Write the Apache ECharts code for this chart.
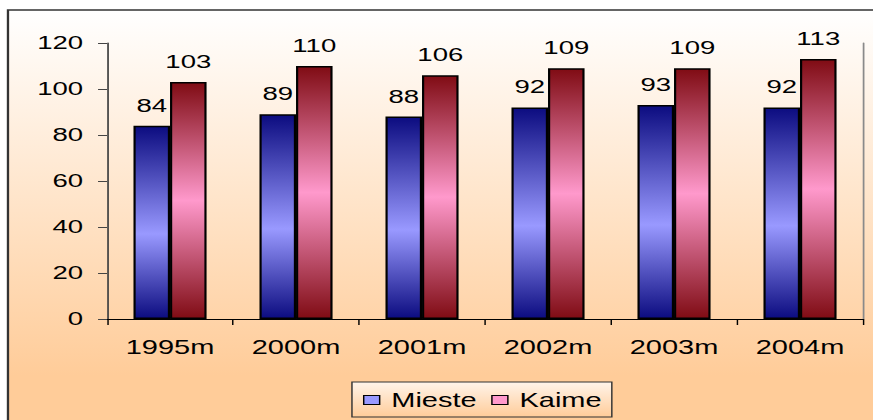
<!DOCTYPE html>
<html>
<head>
<meta charset="utf-8">
<script src="https://cdn.jsdelivr.net/npm/echarts@6/dist/echarts.min.js"></script>
<style>
  html, body { margin: 0; padding: 0; background: #ffffff; overflow: hidden; }
  /* the chart is laid out narrow and widened, giving the broad lettering */
  #c { width: 602px; height: 420px; transform: scaleX(1.4502); transform-origin: 0 0; }
</style>
</head>
<body>
<div id="c"></div>
<script>
const categories = ['1995m', '2000m', '2001m', '2002m', '2003m', '2004m'];
const mieste = [84, 89, 88, 92, 93, 92];
const kaime = [103, 110, 106, 109, 109, 113];
const yTicks = { min: 0, max: 120, interval: 20 };

const FONT = '"Liberation Sans", Arial, sans-serif';
const G = echarts.graphic.LinearGradient;

function barFill(dark, light, mid) {
  return new G(0, 0, 0, 1, [
    { offset: 0, color: dark },
    { offset: mid, color: light },
    { offset: 1, color: dark }
  ]);
}

function paperFill() {
  return new G(0, 0, 0, 1, [
    { offset: 0, color: '#fff4ea' },
    { offset: 1, color: '#ffcc99' }
  ]);
}

const chart = echarts.init(document.getElementById('c'), null, { renderer: 'svg' });

chart.setOption({
  animation: false,
  textStyle: { fontFamily: FONT },
  graphic: [{
    type: 'rect',
    z: -10,
    silent: true,
    shape: { x: 5.5, y: 10, width: 700, height: 430 },
    style: {
      fill: new G(0, 0, 0, 1, [
        { offset: 0, color: '#ffffff' },
        { offset: 0.85, color: '#ffcc99' },
        { offset: 1, color: '#ffcc99' }
      ]),
      stroke: '#333333',
      lineWidth: 1.6
    }
  }],
  grid: { left: 73.8, right: 6.9, top: 43, bottom: 101 },
  legend: {
    left: 242.7,
    top: 382,
    padding: [8, 7, 7, 7.6],
    itemWidth: 11,
    itemHeight: 9,
    itemGap: 10,
    icon: 'rect',
    backgroundColor: paperFill(),
    borderColor: '#333333',
    borderWidth: 1,
    textStyle: { fontSize: 20, color: '#000', fontFamily: FONT, padding: [0, 0, 0, 3] },
    data: [
      { name: 'Mieste', itemStyle: { color: '#9999ff', borderColor: '#000', borderWidth: 1 } },
      { name: 'Kaime', itemStyle: { color: '#ff99cc', borderColor: '#000', borderWidth: 1 } }
    ]
  },
  xAxis: {
    type: 'category',
    data: categories,
    axisLine: { lineStyle: { color: '#000', width: 1 } },
    axisTick: { show: true, length: 6, lineStyle: { color: '#000' } },
    axisLabel: { fontSize: 20, color: '#000', margin: 18, fontFamily: FONT }
  },
  yAxis: [{
    type: 'value',
    min: yTicks.min,
    max: yTicks.max,
    interval: yTicks.interval,
    splitLine: { show: false },
    axisLine: { show: true, lineStyle: { color: '#444', width: 1.2 } },
    axisTick: { show: true, length: 6.2, lineStyle: { color: '#444' } },
    axisLabel: { fontSize: 19, color: '#000', margin: 16.5, fontFamily: FONT }
  }, {
    type: 'value',
    position: 'right',
    min: yTicks.min,
    max: yTicks.max,
    interval: yTicks.interval,
    splitLine: { show: false },
    axisLine: { show: true, lineStyle: { color: '#8a8a8a', width: 1.2 } },
    axisTick: { show: false },
    axisLabel: { show: false }
  }],
  series: [{
    name: 'Mieste',
    type: 'bar',
    data: mieste,
    barGap: '0%',
    barCategoryGap: '42%',
    itemStyle: {
      color: barFill('#0c0c80', '#9999ff', 0.56),
      borderColor: '#000',
      borderWidth: 1.5
    },
    label: { show: true, position: 'top', distance: 11, fontSize: 19, color: '#000', fontFamily: FONT }
  }, {
    name: 'Kaime',
    type: 'bar',
    data: kaime,
    itemStyle: {
      color: barFill('#800c14', '#ff99cc', 0.5),
      borderColor: '#000',
      borderWidth: 1.5
    },
    label: { show: true, position: 'top', distance: 11, fontSize: 19, color: '#000', fontFamily: FONT }
  }]
});
</script>
</body>
</html>
